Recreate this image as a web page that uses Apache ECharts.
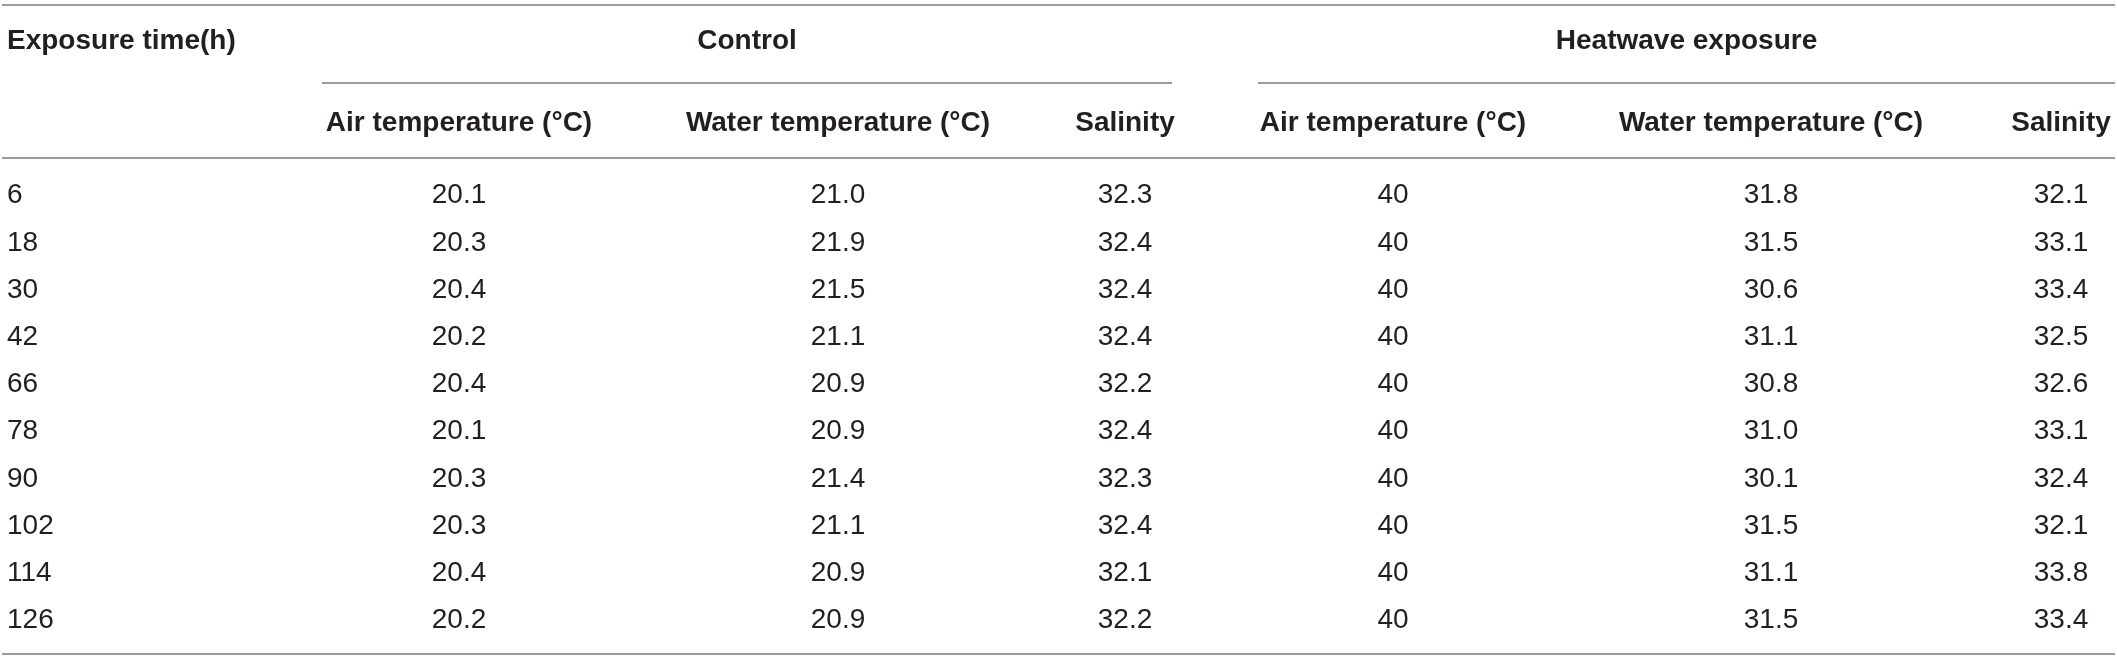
<!DOCTYPE html>
<html>
<head>
<meta charset="utf-8">
<script src="https://cdn.jsdelivr.net/npm/echarts@6/dist/echarts.min.js"></script>
<style>
html, body { margin: 0; padding: 0; background: #fff; }
#main { width: 2117px; height: 661px; }
</style>
</head>
<body>
<div id="main"></div>
<script>
// table content
const firstColumnName = 'Exposure time(h)'
const groupNames = ['Control', 'Heatwave exposure']
const columnNames = [
    'Air temperature (°C)', 'Water temperature (°C)', 'Salinity',
    'Air temperature (°C)', 'Water temperature (°C)', 'Salinity'
]
const exposureTimes = ['6', '18', '30', '42', '66', '78', '90', '102', '114', '126']
const controlAir = [20.1, 20.3, 20.4, 20.2, 20.4, 20.1, 20.3, 20.3, 20.4, 20.2]
const controlWater = [21.0, 21.9, 21.5, 21.1, 20.9, 20.9, 21.4, 21.1, 20.9, 20.9]
const controlSalinity = [32.3, 32.4, 32.4, 32.4, 32.2, 32.4, 32.3, 32.4, 32.1, 32.2]
const heatAir = [40, 40, 40, 40, 40, 40, 40, 40, 40, 40]
const heatWater = [31.8, 31.5, 30.6, 31.1, 30.8, 31.0, 30.1, 31.5, 31.1, 31.5]
const heatSalinity = [32.1, 33.1, 33.4, 32.5, 32.6, 33.1, 32.4, 32.1, 33.8, 33.4]

// layout
const columns = [controlAir, controlWater, controlSalinity, heatAir, heatWater, heatSalinity]
const decimals = [1, 1, 1, 0, 1, 1]
const colX = [459, 838, 1125, 1393, 1771, 2061]
const groupSpan = [[322, 1172], [1258, 2115]]
const font = '"Liberation Sans", Arial, Helvetica, sans-serif'
const headColor = '#231f20'
const cellColor = '#231f20'
const ruleColor = '#7a7a7a'

let chart = echarts.init(document.getElementById('main'))

let series = columns.map((values, c) => ({
    type: 'scatter',
    symbolSize: 0,
    itemStyle: { color: '#fff', opacity: 1 },
    silent: true,
    label: {
        show: true,
        position: 'inside',
        fontFamily: font,
        fontSize: 28,
        color: cellColor,
        opacity: 1,
        textBorderWidth: 0,
        formatter: p => values[p.dataIndex].toFixed(decimals[c])
    },
    data: values.map((v, i) => [colX[c], i])
}))

function rule(x1, x2, y) {
    return {
        type: 'line',
        shape: { x1: x1, y1: y, x2: x2, y2: y },
        style: { stroke: ruleColor, lineWidth: 1.5 },
        silent: true
    }
}

function headText(text, x, y, align) {
    return {
        type: 'text',
        x: x,
        y: y,
        style: {
            text: text,
            fontFamily: font,
            fontSize: 28,
            fontWeight: 'bold',
            fill: headColor,
            textAlign: align || 'center',
            textVerticalAlign: 'middle'
        },
        silent: true
    }
}

let graphics = [
    rule(2, 2115, 5),
    rule(groupSpan[0][0], groupSpan[0][1], 83),
    rule(groupSpan[1][0], groupSpan[1][1], 83),
    rule(2, 2115, 158),
    rule(2, 2115, 654),
    headText(firstColumnName, 7, 41, 'left'),
    headText(groupNames[0], (groupSpan[0][0] + groupSpan[0][1]) / 2, 41),
    headText(groupNames[1], (groupSpan[1][0] + groupSpan[1][1]) / 2, 41)
]
columnNames.forEach((name, c) => graphics.push(headText(name, colX[c], 123)))

chart.setOption({
    animation: false,
    backgroundColor: '#fff',
    grid: {
        left: 0,
        right: 0,
        top: 172,
        bottom: 17
    },
    xAxis: {
        type: 'value',
        min: 0,
        max: 2117,
        show: false
    },
    yAxis: {
        type: 'category',
        inverse: true,
        data: exposureTimes,
        axisLine: { show: false },
        axisTick: { show: false },
        splitLine: { show: false },
        axisLabel: {
            align: 'left',
            margin: -7,
            fontFamily: font,
            fontSize: 28,
            color: cellColor
        }
    },
    graphic: graphics,
    series: series
})
</script>
</body>
</html>
